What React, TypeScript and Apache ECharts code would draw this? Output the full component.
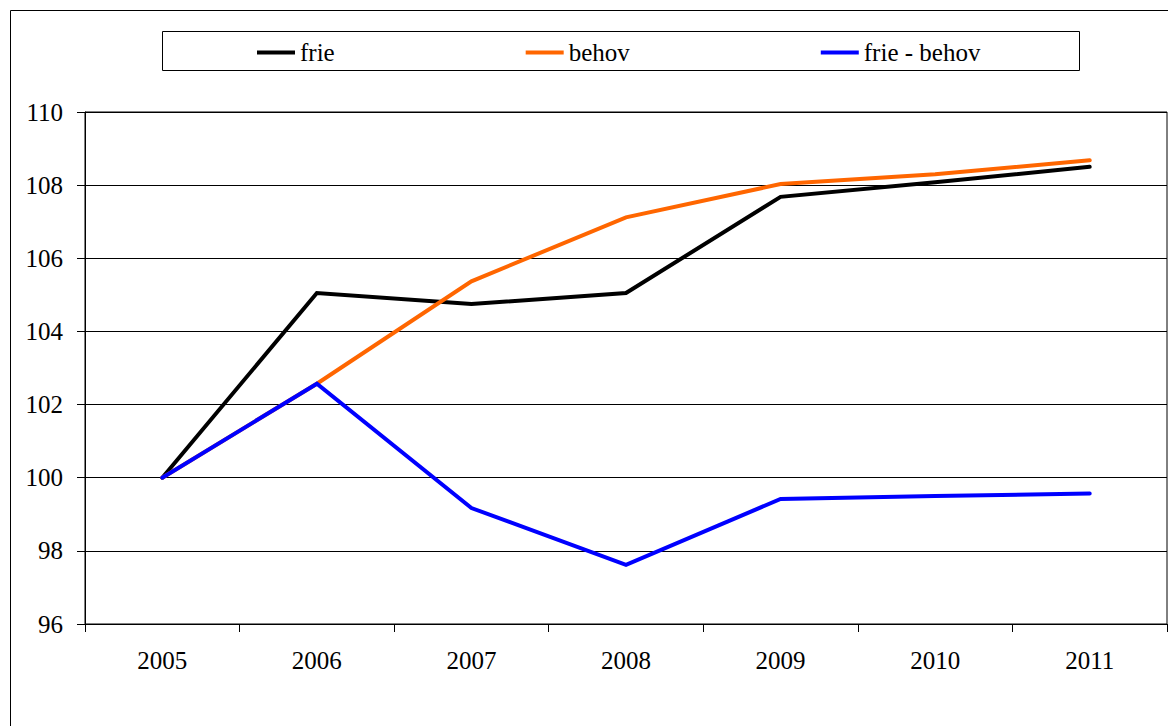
import React, { useEffect, useRef } from "react";
import * as echarts from "echarts";

const years = ["2005", "2006", "2007", "2008", "2009", "2010", "2011"];
const frie = [100, 105.05, 104.75, 105.05, 107.68, 108.08, 108.5];
const behov = [100, 102.57, 105.37, 107.12, 108.03, 108.3, 108.68];
const frieMinusBehov = [100, 102.57, 99.17, 97.62, 99.42, 99.5, 99.57];
const yTicks = { min: 96, max: 110, interval: 2 };

const FONT = "Liberation Serif, Times New Roman, serif";
const FS = 25;

export default function App() {
  const ref = useRef<HTMLDivElement>(null);
  useEffect(() => {
    document.body.style.margin = "0";
    const chart = echarts.init(ref.current!, null, { renderer: "svg" });
    const lineSeries = (name: string, data: number[], color: string, z: number) => ({
      name,
      type: "line",
      data,
      showSymbol: false,
      symbol: "none",
      z,
      lineStyle: { color, width: 4, cap: "round", join: "miter" },
      itemStyle: { color },
    });
    chart.setOption({
      animation: false,
      backgroundColor: "#fff",
      textStyle: { fontFamily: FONT },
      graphic: [
        {
          type: "rect",
          shape: { x: 10.5, y: 10.5, width: 1200, height: 800 },
          style: { fill: "none", stroke: "#000", lineWidth: 1 },
          z: -10,
        },
        {
          type: "rect",
          shape: { x: 162.5, y: 31.5, width: 917, height: 39 },
          style: { fill: "#fff", stroke: "#000", lineWidth: 1 },
          z: -5,
        },
      ],
      legend: {
        left: 257,
        top: 40,
        padding: 0,
        itemWidth: 38,
        itemHeight: 4,
        itemGap: 191,
        icon: "rect",
        textStyle: { fontFamily: FONT, fontSize: FS, color: "#000", padding: [6, 0, 0, 0] },
        data: ["frie", "behov", "frie - behov"],
      },
      grid: {
        left: 85,
        top: 112,
        width: 1082,
        height: 512,
        show: true,
        borderColor: "#000",
        borderWidth: 1,
        containLabel: false,
      },
      xAxis: {
        type: "category",
        data: years,
        boundaryGap: true,
        axisLine: { lineStyle: { color: "#000", width: 1 } },
        axisTick: { show: true, length: 8, lineStyle: { color: "#000" } },
        axisLabel: { fontFamily: FONT, fontSize: FS, color: "#000", margin: 24 },
      },
      yAxis: {
        type: "value",
        min: yTicks.min,
        max: yTicks.max,
        interval: yTicks.interval,
        axisLine: { show: true, lineStyle: { color: "#000", width: 1 } },
        axisTick: { show: true, length: 8, lineStyle: { color: "#000" } },
        axisLabel: { fontFamily: FONT, fontSize: FS, color: "#000", margin: 22 },
        splitLine: { show: true, lineStyle: { color: "#000", width: 1 } },
      },
      series: [
        lineSeries("frie", frie, "#000000", 2),
        lineSeries("behov", behov, "#FF6600", 3),
        lineSeries("frie - behov", frieMinusBehov, "#0000FF", 4),
      ],
    });
    return () => chart.dispose();
  }, []);
  return <div ref={ref} style={{ width: 1168, height: 726 }} />;
}
